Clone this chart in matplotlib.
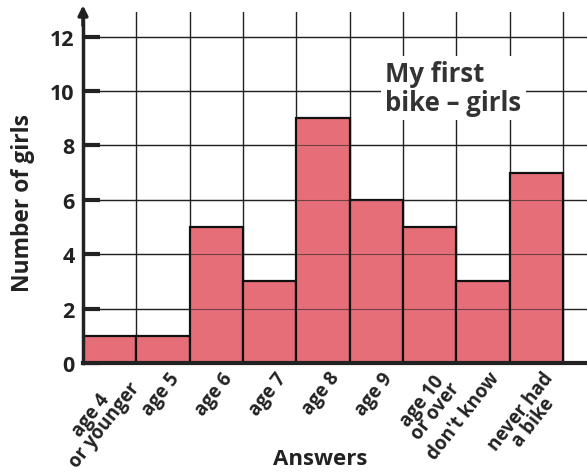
import matplotlib
matplotlib.use("Agg")
import matplotlib.pyplot as plt
import matplotlib.transforms as mtransforms
import numpy as np

answers = ["age 4\nor younger", "age 5", "age 6", "age 7", "age 8", "age 9",
           "age 10\nor over", "don't know", "never had\na bike"]
girls = [1, 1, 5, 3, 9, 6, 5, 3, 7]
yticks = [0, 2, 4, 6, 8, 10, 12]

plt.rcParams['font.family'] = ['Open Sans', 'DejaVu Sans']
plt.rcParams['font.weight'] = 'bold'

fig = plt.figure(figsize=(5.87, 4.77), dpi=100)
ax = fig.add_axes([0.1414, 0.2369, 0.8586, 0.7358])

x = np.arange(len(girls))
ax.bar(x + 0.5, girls, width=1.0, color='#e66e78', edgecolor='#111111',
       linewidth=1.6, zorder=2)

ax.set_xlim(0, 9.45)
ax.set_ylim(0, 12.9)

# grid
for xv in range(1, 10):
    ax.axvline(xv, color='#222222', lw=1.0, zorder=1)
for yv in yticks[1:]:
    ax.axhline(yv, color='#222222', lw=1.0, zorder=1)
    ax.axhline(yv, xmin=0, xmax=9 / 9.45, color='#222222', lw=0.8, zorder=3, alpha=0.6)

ax.set_yticks(yticks)
ax.set_yticklabels([str(v) for v in yticks], fontsize=15.5, fontweight='bold', color='#222222')
ax.tick_params(axis='y', direction='in', length=12, width=3, pad=6, color='#222222')

# x category labels, rotated, anchored at their top-right corner just below each bar
ax.set_xticks(x + 0.5)
ax.set_xticklabels([])
ax.tick_params(axis='x', length=0)
shift = mtransforms.ScaledTranslation(5 / 100, -5 / 100, fig.dpi_scale_trans)
for xi, lab in zip(x + 0.5, answers):
    ax.text(xi, 0, lab, transform=ax.get_xaxis_transform() + shift,
            rotation=52, ha='right', va='top', rotation_mode='anchor',
            multialignment='center', fontsize=13.5, fontweight='bold',
            color='#222222', linespacing=0.8)

for s in ['top', 'right']:
    ax.spines[s].set_visible(False)
ax.spines['left'].set_linewidth(2.5)
ax.spines['bottom'].set_linewidth(3)
ax.spines['left'].set_color('#222222')
ax.spines['bottom'].set_color('#222222')

# arrow at top of y axis
ax.annotate('', xy=(0, 13.25), xytext=(0, 12.3), xycoords='data', annotation_clip=False,
            arrowprops=dict(arrowstyle='-|>', color='#222222', lw=2.5, mutation_scale=14))

ax.set_ylabel('Number of girls', fontsize=16.5, fontweight='bold', color='#222222')
ax.yaxis.set_label_coords(-0.095, 0.46)
ax.set_xlabel('Answers', fontsize=16, fontweight='bold', color='#222222')
ax.xaxis.set_label_coords(0.47, -0.272)
ax.xaxis.label.set_va('center')

ax.text(5.67, 10.1, 'My first\nbike \u2013 girls', fontsize=18.5, fontweight='bold', color='#333333',
        ha='left', va='center', linespacing=1.1, zorder=5,
        bbox=dict(facecolor='white', edgecolor='none', pad=3))

fig.savefig('out.png', dpi=100)
